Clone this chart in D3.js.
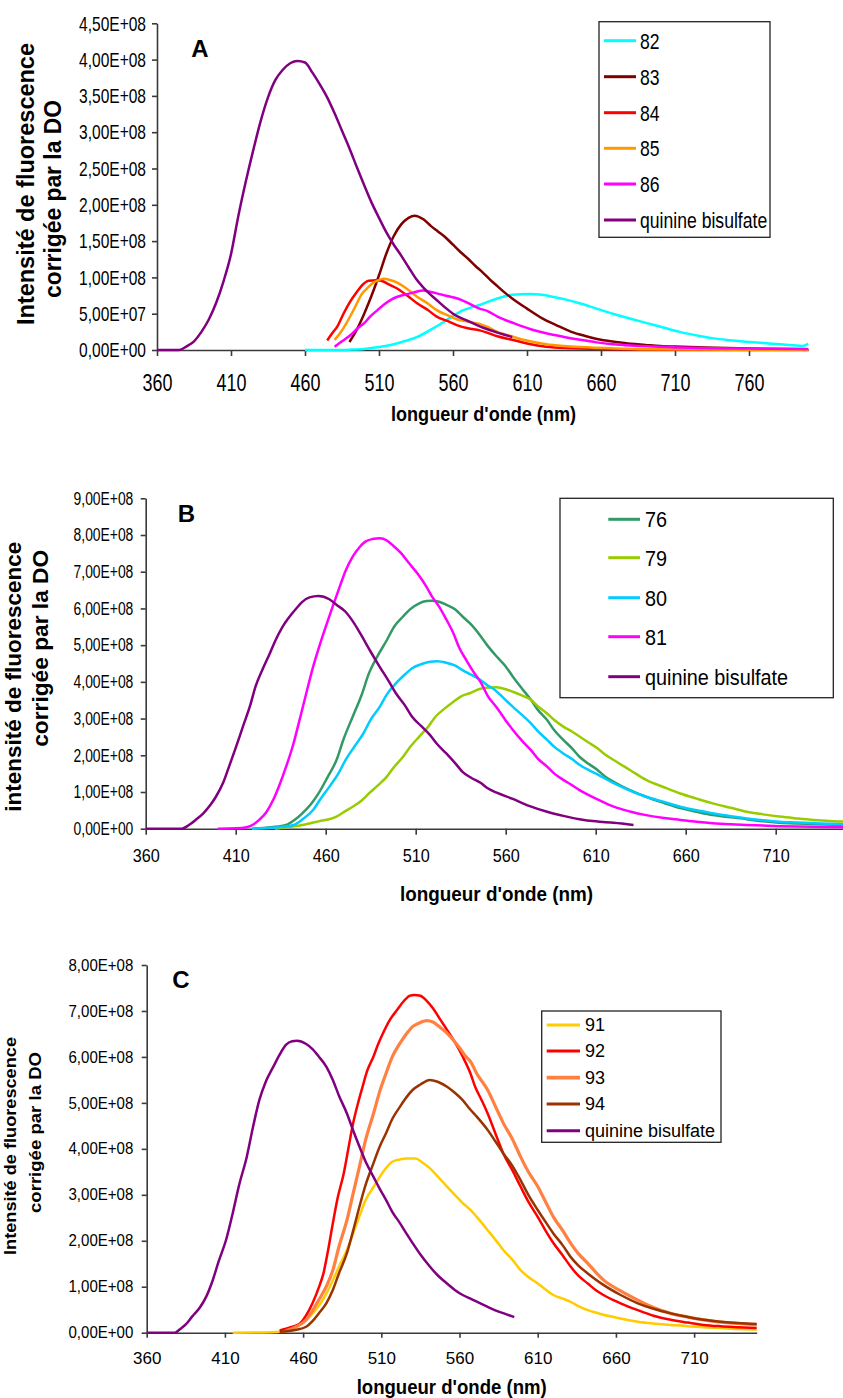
<!DOCTYPE html>
<html>
<head>
<meta charset="utf-8">
<script src="https://cdn.jsdelivr.net/npm/d3@7/dist/d3.min.js"></script>
<style>
  html, body { margin: 0; padding: 0; background: #fff; }
  svg { display: block; font-family: "Liberation Sans", Arial, sans-serif; }
</style>
</head>
<body>
<svg id="chart" width="843" height="1398"></svg>
<script>
// ---------------- DATA (intensity in units of 1E+08) ----------------
// Panel A
const A_series = ["82", "83", "84", "85", "86", "quinine bisulfate"];
const A_colors = ["#00FFFF", "#800000", "#FF0000", "#FF9900", "#FF00FF", "#800080"];
const A_yTicks = [0, 0.5, 1, 1.5, 2, 2.5, 3, 3.5, 4, 4.5];
const A_xTicks = [360, 410, 460, 510, 560, 610, 660, 710, 760];
const A_82 = [[460,0],[480,0],[490,0.005],[500,0.015],[510,0.04],[518,0.07],[527,0.12],[536,0.18],[545,0.28],[554,0.39],[560,0.47],[567,0.55],[573,0.59],[578,0.62],[583,0.66],[590,0.71],[600,0.76],[612,0.77],[620,0.76],[628,0.73],[637,0.69],[646,0.64],[657,0.57],[668,0.50],[680,0.43],[691,0.37],[702,0.31],[713,0.25],[725,0.20],[736,0.16],[747,0.135],[758,0.115],[770,0.095],[781,0.08],[790,0.065],[796,0.055],[800,0.085]];
const A_83 = [[490,0.11],[495,0.28],[500,0.50],[505,0.75],[510,1.03],[515,1.33],[520,1.57],[525,1.73],[530,1.82],[534,1.85],[540,1.80],[545,1.71],[550,1.63],[555,1.55],[560,1.45],[565,1.35],[570,1.26],[575,1.16],[580,1.07],[585,0.97],[590,0.88],[595,0.79],[600,0.71],[610,0.57],[620,0.44],[630,0.34],[640,0.25],[650,0.19],[660,0.14],[670,0.11],[680,0.085],[690,0.07],[700,0.055],[715,0.045],[730,0.035],[760,0.02],[800,0.01]];
const A_84 = [[475,0.13],[478,0.22],[482,0.33],[486,0.50],[490,0.65],[495,0.80],[500,0.92],[503,0.955],[508,0.96],[512,0.95],[517,0.90],[522,0.85],[529,0.75],[536,0.64],[543,0.55],[549,0.46],[556,0.40],[563,0.34],[570,0.30],[578,0.27],[583,0.24],[590,0.19],[600,0.14],[610,0.09],[623,0.045],[640,0.025],[668,0.01],[700,0.005],[800,0.003]];
const A_85 = [[480,0.14],[484,0.24],[488,0.37],[492,0.52],[495,0.64],[498,0.76],[502,0.85],[505,0.91],[509,0.955],[513,0.98],[518,0.96],[522,0.93],[529,0.84],[536,0.73],[543,0.64],[549,0.55],[556,0.48],[563,0.42],[570,0.39],[578,0.36],[583,0.32],[590,0.25],[601,0.18],[612,0.12],[623,0.08],[635,0.055],[646,0.04],[670,0.02],[691,0.01],[750,0.005],[800,0.003]];
const A_86 = [[480,0.045],[485,0.12],[491,0.21],[495,0.29],[500,0.37],[504,0.46],[509,0.55],[513,0.62],[518,0.69],[522,0.73],[527,0.76],[533,0.79],[540,0.82],[545,0.80],[551,0.77],[557,0.74],[563,0.71],[570,0.65],[578,0.57],[583,0.54],[590,0.46],[601,0.37],[612,0.29],[623,0.23],[635,0.18],[646,0.14],[657,0.105],[668,0.08],[680,0.062],[691,0.05],[713,0.035],[736,0.025],[760,0.02],[800,0.015]];
const A_quinine = [[360,0],[375,0],[380,0.05],[385,0.12],[390,0.25],[395,0.42],[400,0.65],[405,0.95],[410,1.32],[415,1.85],[420,2.32],[425,2.75],[430,3.15],[435,3.48],[440,3.72],[445,3.86],[450,3.95],[455,3.98],[460,3.96],[465,3.82],[470,3.66],[475,3.48],[480,3.26],[485,3.02],[490,2.78],[495,2.52],[500,2.27],[505,2.03],[510,1.82],[515,1.62],[520,1.45],[525,1.30],[530,1.14],[535,0.98],[540,0.86],[545,0.76],[550,0.67],[555,0.58],[560,0.50],[570,0.40],[580,0.31],[590,0.24],[600,0.18]];

// Panel B
const B_series = ["76", "79", "80", "81", "quinine bisulfate"];
const B_colors = ["#339966", "#99CC00", "#00CCFF", "#FF00FF", "#800080"];
const B_yTicks = [0, 1, 2, 3, 4, 5, 6, 7, 8, 9];
const B_xTicks = [360, 410, 460, 510, 560, 610, 660, 710];
const B_76 = [[419,0],[430,0.04],[438,0.10],[443,0.25],[447,0.42],[452,0.68],[456,0.96],[461,1.40],[466,1.87],[470,2.45],[475,3.05],[480,3.65],[484,4.23],[489,4.72],[494,5.14],[498,5.50],[503,5.78],[507,5.98],[512,6.14],[516,6.20],[519,6.21],[523,6.18],[527,6.10],[532,5.97],[536,5.78],[541,5.55],[546,5.25],[550,4.98],[555,4.69],[560,4.42],[564,4.14],[569,3.82],[574,3.51],[578,3.23],[583,2.96],[587,2.68],[592,2.42],[597,2.18],[601,1.96],[606,1.77],[611,1.60],[615,1.43],[620,1.28],[629,1.05],[638,0.87],[648,0.70],[657,0.56],[666,0.46],[675,0.37],[685,0.31],[694,0.26],[703,0.20],[712,0.16],[722,0.14],[731,0.13],[750,0.10]];
const B_79 = [[432,0],[440,0.05],[447,0.10],[456,0.20],[466,0.33],[470,0.45],[475,0.60],[480,0.77],[484,0.96],[489,1.18],[494,1.42],[498,1.68],[503,1.96],[507,2.23],[512,2.51],[517,2.78],[521,3.05],[526,3.27],[531,3.46],[535,3.60],[540,3.69],[545,3.80],[549,3.84],[555,3.85],[560,3.80],[564,3.73],[569,3.63],[574,3.51],[578,3.33],[583,3.14],[587,2.96],[592,2.78],[597,2.64],[601,2.51],[606,2.35],[611,2.19],[615,2.03],[620,1.87],[629,1.60],[638,1.33],[648,1.13],[657,0.96],[666,0.82],[675,0.69],[685,0.57],[694,0.46],[703,0.39],[712,0.33],[722,0.28],[731,0.24],[740,0.21],[750,0.19]];
const B_80 = [[419,0],[432,0.03],[442,0.10],[447,0.25],[453,0.51],[457,0.80],[462,1.14],[467,1.50],[471,1.87],[476,2.24],[481,2.60],[485,2.97],[490,3.32],[494,3.66],[499,3.96],[504,4.20],[508,4.37],[513,4.48],[518,4.55],[522,4.56],[527,4.52],[532,4.44],[536,4.32],[541,4.19],[546,4.05],[550,3.90],[554,3.78],[559,3.55],[564,3.32],[569,3.10],[574,2.87],[578,2.65],[583,2.42],[587,2.23],[592,2.05],[597,1.89],[601,1.74],[611,1.48],[620,1.24],[629,1.04],[638,0.87],[648,0.73],[657,0.60],[666,0.50],[675,0.42],[685,0.34],[694,0.28],[703,0.23],[712,0.19],[722,0.17],[731,0.15],[750,0.12]];
const B_81 = [[400,0],[410,0.01],[416,0.04],[420,0.12],[423,0.24],[427,0.45],[431,0.80],[434,1.15],[438,1.69],[442,2.30],[445,2.87],[449,3.65],[453,4.41],[456,4.90],[460,5.50],[464,6.07],[468,6.62],[471,7.02],[475,7.41],[479,7.68],[482,7.82],[486,7.89],[490,7.91],[494,7.85],[497,7.73],[502,7.50],[506,7.25],[511,6.95],[516,6.59],[519,6.33],[523,6.05],[527,5.70],[531,5.32],[534,4.95],[538,4.60],[542,4.28],[546,4.00],[550,3.62],[555,3.30],[560,2.95],[564,2.69],[569,2.40],[574,2.14],[578,1.90],[583,1.69],[587,1.50],[592,1.33],[597,1.18],[601,1.05],[611,0.80],[620,0.60],[629,0.47],[638,0.37],[648,0.29],[657,0.24],[666,0.19],[675,0.15],[685,0.12],[694,0.10],[712,0.07],[731,0.05],[750,0.04]];
const B_quinine = [[360,0],[380,0],[384,0.10],[388,0.25],[392,0.42],[396,0.65],[399,0.87],[403,1.25],[406,1.65],[410,2.2],[414,2.78],[418,3.35],[421,3.87],[425,4.35],[429,4.78],[432,5.12],[436,5.50],[440,5.78],[444,6.02],[447,6.18],[451,6.30],[456,6.34],[462,6.25],[466,6.10],[471,5.91],[476,5.58],[480,5.25],[485,4.82],[490,4.41],[495,4.02],[499,3.69],[504,3.36],[508,3.05],[513,2.80],[518,2.55],[522,2.30],[527,2.05],[532,1.78],[536,1.55],[541,1.38],[546,1.25],[550,1.10],[555,0.98],[564,0.81],[573,0.62],[583,0.46],[592,0.35],[601,0.26],[610,0.20],[620,0.16],[631,0.10]];

// Panel C
const C_series = ["91", "92", "93", "94", "quinine bisulfate"];
const C_colors = ["#FFCC00", "#FF0000", "#FF8040", "#993300", "#800080"];
const C_yTicks = [0, 1, 2, 3, 4, 5, 6, 7, 8];
const C_xTicks = [360, 410, 460, 510, 560, 610, 660, 710];
const C_91 = [[415,0],[440,0.01],[445,0.02],[452,0.08],[458,0.17],[462,0.28],[466,0.42],[471,0.63],[475,0.86],[479,1.14],[483,1.44],[488,1.80],[492,2.16],[496,2.53],[500,2.89],[505,3.17],[509,3.39],[513,3.58],[517,3.72],[522,3.77],[526,3.79],[532,3.79],[536,3.71],[541,3.58],[546,3.40],[552,3.18],[557,3.00],[562,2.82],[567,2.67],[571,2.52],[578,2.23],[583,2.02],[588,1.80],[594,1.58],[599,1.36],[604,1.21],[610,1.07],[615,0.94],[620,0.82],[626,0.74],[631,0.67],[636,0.58],[642,0.49],[647,0.44],[652,0.39],[663,0.31],[674,0.24],[684,0.20],[695,0.17],[706,0.14],[716,0.12],[727,0.10],[738,0.08],[750,0.07]];
const C_92 = [[445,0.05],[452,0.12],[458,0.20],[462,0.38],[466,0.64],[470,0.98],[473,1.29],[476,1.80],[479,2.38],[482,2.92],[486,3.47],[489,4.02],[492,4.56],[495,4.98],[498,5.35],[501,5.70],[505,6.01],[508,6.28],[511,6.51],[515,6.78],[520,7.02],[524,7.20],[528,7.33],[531,7.35],[535,7.33],[539,7.22],[543,7.06],[547,6.85],[552,6.59],[557,6.32],[562,6.01],[567,5.64],[570,5.35],[574,5.07],[578,4.77],[583,4.33],[588,3.90],[594,3.52],[599,3.18],[604,2.85],[610,2.52],[615,2.22],[620,1.95],[626,1.68],[631,1.44],[636,1.24],[642,1.07],[647,0.93],[652,0.82],[663,0.64],[674,0.49],[684,0.37],[695,0.28],[706,0.22],[716,0.17],[727,0.14],[738,0.12],[750,0.10]];
const C_93 = [[449,0.04],[455,0.12],[462,0.28],[466,0.48],[470,0.71],[475,1.02],[479,1.36],[483,1.88],[488,2.45],[492,3.03],[496,3.61],[500,4.20],[505,4.77],[509,5.25],[513,5.64],[517,6.00],[522,6.30],[526,6.50],[530,6.66],[535,6.75],[539,6.79],[543,6.76],[547,6.66],[552,6.52],[556,6.37],[560,6.20],[564,6.01],[567,5.90],[571,5.64],[578,5.28],[583,4.92],[588,4.56],[594,4.20],[599,3.83],[604,3.50],[610,3.18],[615,2.85],[620,2.52],[626,2.22],[631,1.95],[636,1.72],[642,1.51],[647,1.32],[652,1.15],[663,0.91],[674,0.71],[684,0.55],[695,0.42],[706,0.34],[716,0.28],[727,0.23],[738,0.20],[750,0.17]];
const C_94 = [[445,0.02],[455,0.06],[462,0.13],[466,0.25],[470,0.42],[475,0.65],[479,0.93],[483,1.30],[488,1.73],[492,2.22],[496,2.74],[500,3.22],[505,3.69],[509,4.05],[513,4.34],[517,4.65],[522,4.92],[526,5.12],[530,5.28],[535,5.40],[541,5.50],[546,5.46],[552,5.35],[557,5.22],[562,5.06],[567,4.85],[571,4.70],[578,4.41],[583,4.16],[588,3.90],[594,3.62],[599,3.32],[604,3.00],[610,2.67],[615,2.41],[620,2.16],[626,1.90],[631,1.65],[636,1.46],[642,1.29],[647,1.16],[652,1.04],[663,0.82],[674,0.64],[684,0.52],[695,0.42],[706,0.34],[716,0.28],[727,0.24],[738,0.21],[750,0.19]];
const C_quinine = [[360,0],[378,0],[381,0.07],[385,0.18],[389,0.35],[394,0.55],[398,0.78],[402,1.12],[406,1.55],[411,2.05],[415,2.60],[419,3.20],[424,3.83],[428,4.48],[432,5.06],[436,5.45],[441,5.79],[445,6.05],[449,6.26],[453,6.34],[456,6.35],[462,6.28],[466,6.17],[470,6.01],[475,5.78],[479,5.50],[483,5.15],[488,4.77],[492,4.40],[496,4.05],[500,3.72],[505,3.39],[509,3.13],[513,2.89],[517,2.63],[522,2.38],[526,2.16],[530,1.95],[535,1.70],[541,1.44],[546,1.25],[552,1.07],[557,0.93],[562,0.82],[567,0.74],[570,0.69],[575,0.61],[580,0.53],[585,0.46],[590,0.40],[595,0.34]];

const xTitle = "longueur d'onde (nm)";
const yTitleA = ["Intensité de fluorescence", "corrigée par la DO"];
const yTitleB = ["intensité de fluorescence", "corrigée par la DO"];
const yTitleC = ["Intensité de fluorescence", "corrigée par la DO"];

// ---------------- DRAWING ----------------
const svg = d3.select("#chart");
svg.append("rect").attr("width", 843).attr("height", 1398).attr("fill", "#fff");

const FONT = '"Liberation Sans", Arial, sans-serif';
const fmt = v => {
  const s = (v * 1e8).toExponential(2);          // e.g. 4.50e+8
  const [m, e] = s.split("e");
  const sign = e[0] === "-" ? "-" : "+";
  const ex = Math.abs(parseInt(e, 10)).toString().padStart(2, "0");
  return m.replace(".", ",") + "E" + sign + ex;
};
function squeeze(sel, ratio) {
  sel.each(function () {
    const w = this.getComputedTextLength();
    this.setAttribute("textLength", (w * ratio).toFixed(2));
    this.setAttribute("lengthAdjust", "spacingAndGlyphs");
  });
}

function panel(p) {
  const g = svg.append("g");
  const x = d3.scaleLinear().domain(p.xDomain).range([p.left, p.right]);
  const y = d3.scaleLinear().domain(p.yDomain).range([p.bottom, p.top]);

  // axes
  const xa = g.append("g").attr("transform", `translate(0,${p.bottom})`)
    .call(d3.axisBottom(x).tickValues(p.xTicks).tickFormat(d3.format("d"))
      .tickSize(p.xTickSize).tickSizeOuter(0).tickPadding(p.xPad));
  const ya = g.append("g").attr("transform", `translate(${p.left},0)`)
    .call(d3.axisLeft(y).tickValues(p.yTicks).tickFormat(fmt)
      .tickSize(5).tickSizeOuter(0).tickPadding(p.yPad));
  [xa, ya].forEach(a => {
    a.selectAll("path,line").attr("stroke", "#3a3a3a").attr("stroke-width", 1.6);
    a.selectAll("text").attr("fill", "#000").attr("font-family", FONT);
  });
  xa.selectAll("text").attr("font-size", p.xFont);
  ya.selectAll("text").attr("font-size", p.yFont);
  squeeze(xa.selectAll("text"), p.xRatio);
  squeeze(ya.selectAll("text"), p.yRatio);

  // lines
  const line = d3.line().x(d => x(d[0])).y(d => y(d[1])).curve(d3.curveMonotoneX);
  p.data.forEach((d, i) => {
    g.append("path").datum(d).attr("fill", "none")
      .attr("stroke", p.colors[i])
      .attr("stroke-width", p.widths ? p.widths[i] : 2.5)
      .attr("stroke-linejoin", "round")
      .attr("d", line);
  });

  // panel letter
  g.append("text").attr("x", p.letter[1]).attr("y", p.letter[2])
    .attr("text-anchor", "middle").attr("font-family", FONT)
    .attr("font-weight", "bold").attr("font-size", 24).text(p.letter[0]);

  // x title
  g.append("text").attr("x", p.xTitle[0]).attr("y", p.xTitle[1])
    .attr("text-anchor", "middle").attr("font-family", FONT)
    .attr("font-weight", "bold").attr("font-size", p.xTitle[2])
    .attr("textLength", p.xTitle[3]).attr("lengthAdjust", "spacingAndGlyphs")
    .text(xTitle);

  // y title (two rotated lines)
  p.yTitles.forEach(t => {
    g.append("text")
      .attr("transform", `translate(${t.x},${t.y}) rotate(-90)`)
      .attr("text-anchor", "middle").attr("font-family", FONT)
      .attr("font-weight", "bold").attr("font-size", t.size)
      .attr("textLength", t.len).attr("lengthAdjust", "spacingAndGlyphs")
      .text(t.text);
  });

  // legend
  const L = p.legend;
  g.append("rect").attr("x", L.x0).attr("y", L.y0)
    .attr("width", L.x1 - L.x0).attr("height", L.y1 - L.y0)
    .attr("fill", "#fff").attr("stroke", "#222").attr("stroke-width", 1.3);
  p.names.forEach((n, i) => {
    const yy = L.ys[i];
    g.append("line").attr("x1", L.lx0).attr("x2", L.lx1).attr("y1", yy).attr("y2", yy)
      .attr("stroke", p.colors[i]).attr("stroke-width", p.widths ? p.widths[i] + 0.5 : 3);
    const t = g.append("text").attr("x", L.tx).attr("y", yy).attr("dy", "0.36em")
      .attr("font-family", FONT).attr("font-size", L.size).attr("fill", "#000").text(n);
    squeeze(t, L.ratio);
  });
}

// Panel A
panel({
  xDomain: [360, 800], yDomain: [0, 4.5],
  left: 157, right: 808.2, top: 23.3, bottom: 350,
  xTicks: A_xTicks, yTicks: A_yTicks,
  xTickSize: 6, xPad: 19, yPad: 6,
  xFont: 23, xRatio: 0.78, yFont: 21, yRatio: 0.74,
  data: [A_82, A_83, A_84, A_85, A_86, A_quinine], colors: A_colors, names: A_series,
  letter: ["A", 200, 57],
  xTitle: [483.5, 421, 21, 185],
  yTitles: [
    { text: yTitleA[0], x: 33.5, y: 184, size: 23, len: 282 },
    { text: yTitleA[1], x: 60.5, y: 199, size: 23, len: 198 }
  ],
  legend: { x0: 599, y0: 21.7, x1: 770, y1: 237.3, lx0: 604, lx1: 636, tx: 640,
            ys: [40.7, 76.7, 112.7, 148.3, 184, 220], size: 22, ratio: 0.8 }
});

// Panel B
panel({
  xDomain: [360, 750], yDomain: [0, 9],
  left: 145.7, right: 847.7, top: 498.3, bottom: 828.7,
  xTicks: B_xTicks, yTicks: B_yTicks,
  xTickSize: 6, xPad: 15, yPad: 7.4,
  xFont: 18, xRatio: 0.9, yFont: 18, yRatio: 0.77,
  data: [B_76, B_79, B_80, B_81, B_quinine], colors: B_colors, names: B_series,
  letter: ["B", 186.5, 521.5],
  xTitle: [496.5, 900.5, 21, 193],
  yTitles: [
    { text: yTitleB[0], x: 20.7, y: 676.7, size: 22.5, len: 270 },
    { text: yTitleB[1], x: 47.5, y: 648.3, size: 22.5, len: 197 }
  ],
  legend: { x0: 560, y0: 498.3, x1: 833.3, y1: 697.7, lx0: 608.3, lx1: 640, tx: 645,
            ys: [519.3, 557.7, 597.7, 636.7, 676.7], size: 22, ratio: 0.9 }
});

// Panel C
panel({
  xDomain: [360, 750], yDomain: [0, 8],
  left: 146.7, right: 756.7, top: 965, bottom: 1332.7,
  xTicks: C_xTicks, yTicks: C_yTicks,
  xTickSize: 5, xPad: 14, yPad: 8.4,
  xFont: 17, xRatio: 1.0, yFont: 16, yRatio: 0.94,
  data: [C_91, C_92, C_93, C_94, C_quinine], colors: C_colors, names: C_series,
  widths: [2.5, 2.5, 3.2, 2.5, 2.5],
  letter: ["C", 181, 988],
  xTitle: [451.7, 1394, 20, 190],
  yTitles: [
    { text: yTitleC[0], x: 15.5, y: 1146, size: 16.5, len: 218 },
    { text: yTitleC[1], x: 41, y: 1132.5, size: 16.5, len: 161 }
  ],
  legend: { x0: 541.7, y0: 1011, x1: 721, y1: 1142.3, lx0: 546.7, lx1: 580, tx: 585,
            ys: [1025, 1051, 1077.7, 1104, 1130.7], size: 18, ratio: 1.0 }
});
</script>
</body>
</html>
